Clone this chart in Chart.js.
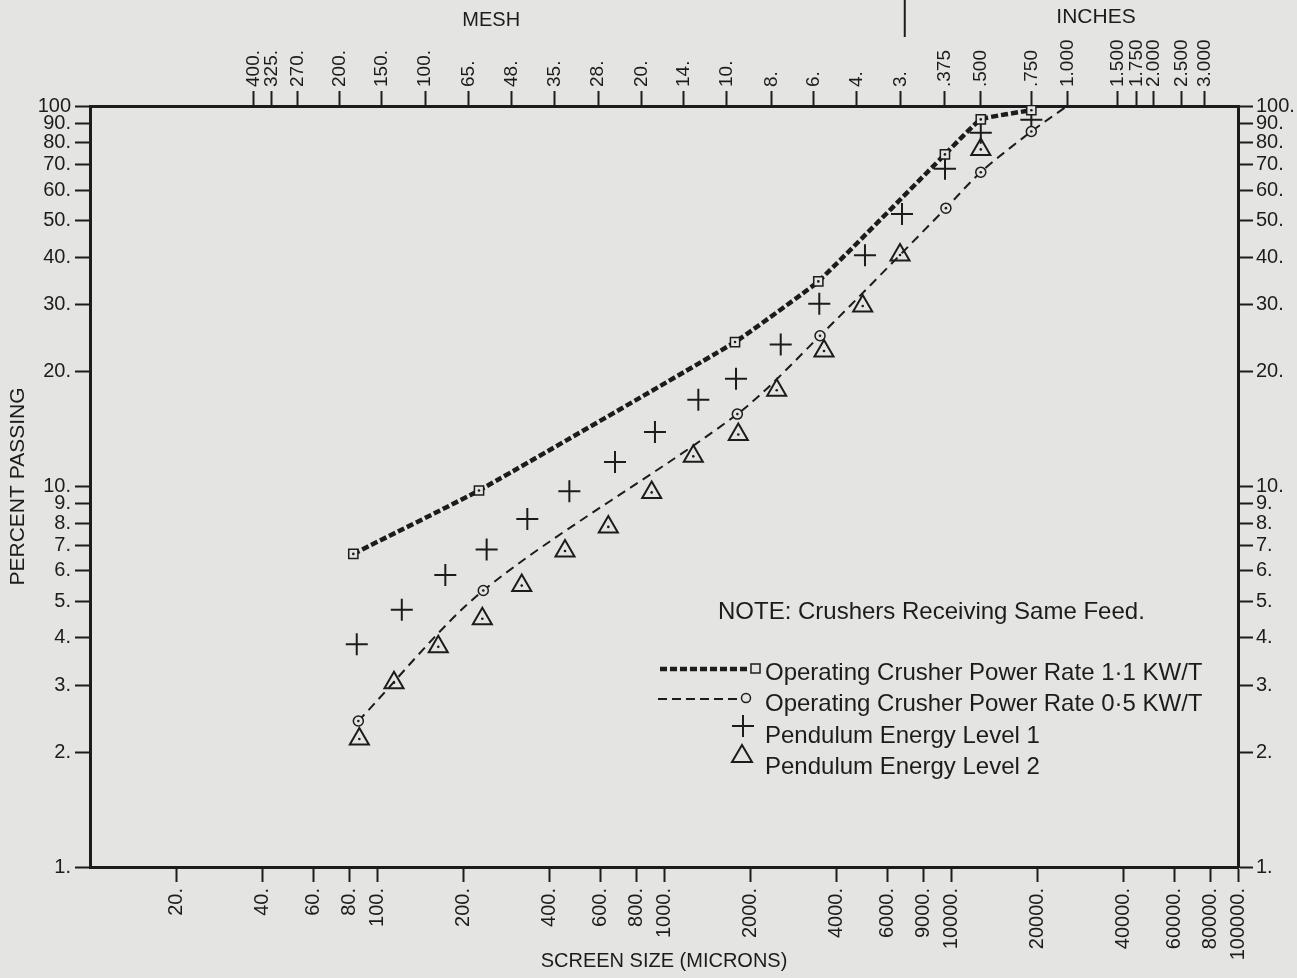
<!DOCTYPE html>
<html>
<head>
<meta charset="utf-8">
<script src="https://cdn.jsdelivr.net/npm/chart.js@4.4.1/dist/chart.umd.min.js"></script>
<style>
  html, body { margin: 0; padding: 0; background: #e4e4e2; }
  #wrap { width: 1297px; height: 978px; }
</style>
</head>
<body>
<div id="wrap"><canvas id="c" width="1297" height="978"></canvas></div>
<script>
const ink = '#1c1c1c';
const paper = '#e4e4e2';
const font = '"Liberation Sans", Arial, sans-serif';

// screen size (microns) vs percent passing
const rate11X = [82.7, 226.7, 1768, 3449, 9525, 12700, 19050];
const rate11Y = [6.65, 9.76, 23.97, 34.6, 74.6, 92.2, 97.5];
const rate05X = [86.1, 234.6, 1801, 3497, 9600, 12700, 19050, 25400];
const rate05Y = [2.42, 5.33, 15.5, 24.9, 53.9, 67.0, 85.7, 100];
const level1X = [85, 122, 173, 241, 334, 468, 675, 930, 1317, 1782, 2551, 3476, 5015, 6750, 9530, 12700, 19050];
const level1Y = [3.85, 4.74, 5.85, 6.83, 8.21, 9.72, 11.6, 13.9, 16.9, 19.2, 23.6, 30.2, 40.5, 52.0, 68.4, 85.0, 92];
const level2X = [86.8, 114.6, 163.5, 232.8, 319.4, 451.9, 639.7, 906, 1265, 1815, 2470, 3610, 4924, 6643, 12700];
const level2Y = [2.17, 3.05, 3.79, 4.49, 5.49, 6.77, 7.83, 9.65, 12.0, 13.7, 17.9, 22.7, 29.8, 40.6, 76.9];

// the printed axis puts its "9000." tick where 8000 falls, so it sits there
const micronTicks = [20, 40, 60, 80, 100, 200, 400, 600, 800, 1000, 2000, 4000, 6000, 8000, 10000, 20000, 40000, 60000, 80000, 100000];
const micronLabels = ['20.', '40.', '60.', '80.', '100.', '200.', '400.', '600.', '800.', '1000.', '2000.', '4000.', '6000.', '9000.', '10000.', '20000.', '40000.', '60000.', '80000.', '100000.'];
const meshTicks = [37, 43, 53, 74, 104, 147, 208, 295, 417, 589, 833, 1168, 1651, 2362, 3327, 4699, 6680];
const meshLabels = ['400.', '325.', '270.', '200.', '150.', '100.', '65.', '48.', '35.', '28.', '20.', '14.', '10.', '8.', '6.', '4.', '3.'];
const inchTicks = [9525, 12700, 19050, 25400, 38100, 44450, 50800, 63500, 76200];
const inchLabels = ['.375', '.500', '.750', '1.000', '1.500', '1.750', '2.000', '2.500', '3.000'];
const pctTicks = [1, 2, 3, 4, 5, 6, 7, 8, 9, 10, 20, 30, 40, 50, 60, 70, 80, 90, 100];
const pctLabelsLeft = pctTicks.map(v => v === 100 ? '100' : v + '.');
const pctLabelsRight = pctTicks.map(v => v + '.');

const seriesNames = [
    'Operating Crusher Power Rate 1\u00b71 KW/T',
    'Operating Crusher Power Rate 0\u00b75 KW/T',
    'Pendulum Energy Level 1',
    'Pendulum Energy Level 2'
];

function pts(xs, ys) {
    return xs.map((x, i) => ({ x: x, y: ys[i] }));
}

function axisGrid() {
    return { drawOnChartArea: false, drawTicks: true, tickLength: 15, tickWidth: 2, tickColor: ink };
}

const decor = {
    id: 'decor',
    beforeDraw(chart) {
        const ctx = chart.ctx;
        ctx.save();
        ctx.fillStyle = paper;
        ctx.fillRect(0, 0, chart.width, chart.height);
        ctx.restore();
    },
    afterDatasetsDraw(chart) {
        // little centre dots inside the open markers
        const ctx = chart.ctx;
        ctx.save();
        ctx.fillStyle = ink;
        chart.data.datasets.forEach((ds, i) => {
            if (!ds.dot) return;
            chart.getDatasetMeta(i).data.forEach(el => {
                if (el.options.radius <= 0) return;
                ctx.beginPath();
                ctx.arc(el.x, el.y, 1.3, 0, Math.PI * 2);
                ctx.fill();
            });
        });
        ctx.restore();
    },
    afterDraw(chart) {
        const ctx = chart.ctx;
        const xt = chart.scales.xt;
        ctx.save();
        ctx.fillStyle = ink;
        ctx.strokeStyle = ink;
        ctx.textBaseline = 'middle';
        ctx.textAlign = 'center';
        ctx.font = '20px ' + font;
        ctx.fillText('MESH', xt.getPixelForValue(250), 20);
        ctx.font = '21px ' + font;
        ctx.fillText('INCHES', xt.getPixelForValue(32000), 17);
        ctx.lineWidth = 2;
        ctx.beginPath();
        ctx.moveTo(xt.getPixelForValue(6900), 0);
        ctx.lineTo(xt.getPixelForValue(6900), 37);
        ctx.stroke();

        // note and legend
        ctx.textAlign = 'left';
        ctx.font = '24px ' + font;
        ctx.fillText('NOTE: Crushers Receiving Same Feed.', 718, 612);
        seriesNames.forEach((name, i) => {
            ctx.fillText(name, 765, [673, 704, 736, 767][i]);
        });

        ctx.lineWidth = 4.5;
        ctx.setLineDash([7, 3]);
        ctx.beginPath();
        ctx.moveTo(660, 669);
        ctx.lineTo(750, 669);
        ctx.stroke();
        ctx.lineWidth = 2;
        ctx.setLineDash([9, 5]);
        ctx.beginPath();
        ctx.moveTo(658, 699);
        ctx.lineTo(740, 699);
        ctx.stroke();
        ctx.setLineDash([]);
        ctx.lineWidth = 1.5;
        ctx.strokeRect(751, 664, 9, 9);
        ctx.beginPath();
        ctx.arc(746, 698, 4.5, 0, Math.PI * 2);
        ctx.stroke();
        ctx.lineWidth = 2;
        ctx.beginPath();
        ctx.moveTo(732, 726); ctx.lineTo(754, 726);
        ctx.moveTo(743, 715); ctx.lineTo(743, 737);
        ctx.stroke();
        ctx.beginPath();
        ctx.moveTo(742, 745); ctx.lineTo(752, 762); ctx.lineTo(732, 762);
        ctx.closePath();
        ctx.stroke();
        ctx.restore();
    }
};

new Chart(document.getElementById('c'), {
    type: 'line',
    data: {
        datasets: [{
            label: seriesNames[0],
            data: pts(rate11X, rate11Y),
            borderColor: ink,
            borderWidth: 4.5,
            borderDash: [7, 3],
            tension: 0.1,
            pointStyle: 'rect',
            pointRadius: 6.5,
            pointBorderWidth: 1.5,
            pointBorderColor: ink,
            pointBackgroundColor: paper,
            dot: true
        }, {
            label: seriesNames[1],
            data: pts(rate05X, rate05Y),
            borderColor: ink,
            borderWidth: 2,
            borderDash: [9, 6],
            tension: 0.3,
            pointStyle: 'circle',
            pointRadius: [5, 5, 5, 5, 5, 5, 5, 0],
            pointBorderWidth: 1.5,
            pointBorderColor: ink,
            pointBackgroundColor: paper,
            dot: true
        }, {
            label: seriesNames[2],
            data: pts(level1X, level1Y),
            showLine: false,
            pointStyle: 'cross',
            pointRadius: 11,
            pointBorderWidth: 2,
            pointBorderColor: ink
        }, {
            label: seriesNames[3],
            data: pts(level2X, level2Y),
            showLine: false,
            pointStyle: 'triangle',
            pointRadius: 11,
            pointBorderWidth: 2,
            pointBorderColor: ink,
            pointBackgroundColor: 'rgba(0,0,0,0)',
            dot: true
        }]
    },
    options: {
        responsive: false,
        animation: false,
        layout: { padding: 0 },
        plugins: {
            legend: { display: false },
            tooltip: { enabled: false }
        },
        scales: {
            x: {
                type: 'logarithmic',
                position: 'bottom',
                min: 10, max: 100000,
                afterBuildTicks: s => { s.ticks = micronTicks.map(v => ({ value: v })); },
                afterFit: s => { s.height = 111; },
                border: { color: ink, width: 3 },
                grid: axisGrid(),
                ticks: {
                    autoSkip: false, minRotation: 90, maxRotation: 90, padding: 6,
                    color: ink, font: { family: font, size: 20 },
                    callback: (v, i) => micronLabels[i]
                },
                title: {
                    display: true, text: 'SCREEN SIZE (MICRONS)', color: ink,
                    font: { family: font, size: 20 }, padding: { top: 0, bottom: 5 }
                }
            },
            xt: {
                type: 'logarithmic',
                position: 'top',
                min: 10, max: 100000,
                afterBuildTicks: s => { s.ticks = meshTicks.concat(inchTicks).map(v => ({ value: v })); },
                afterFit: s => { s.height = 106; },
                border: { color: ink, width: 3 },
                grid: axisGrid(),
                ticks: {
                    autoSkip: false, minRotation: 90, maxRotation: 90, padding: 4,
                    labelOffset: 23,
                    color: ink, font: { family: font, size: 19 },
                    callback: (v, i) => meshLabels.concat(inchLabels)[i]
                }
            },
            y: {
                type: 'logarithmic',
                position: 'left',
                min: 1, max: 100,
                afterBuildTicks: s => { s.ticks = pctTicks.map(v => ({ value: v })); },
                afterFit: s => { s.width = 90; },
                border: { color: ink, width: 3 },
                grid: axisGrid(),
                ticks: {
                    autoSkip: false, padding: 4,
                    color: ink, font: { family: font, size: 20 },
                    callback: (v, i) => pctLabelsLeft[i]
                },
                title: {
                    display: true, text: 'PERCENT PASSING', color: ink,
                    font: { family: font, size: 21 }, padding: { top: 6, bottom: 0 }
                }
            },
            yr: {
                type: 'logarithmic',
                position: 'right',
                min: 1, max: 100,
                afterBuildTicks: s => { s.ticks = pctTicks.map(v => ({ value: v })); },
                afterFit: s => { s.width = 59; },
                border: { color: ink, width: 3 },
                grid: axisGrid(),
                ticks: {
                    autoSkip: false, padding: 3,
                    color: ink, font: { family: font, size: 20 },
                    callback: (v, i) => pctLabelsRight[i]
                }
            }
        }
    },
    plugins: [decor]
});
</script>
</body>
</html>
